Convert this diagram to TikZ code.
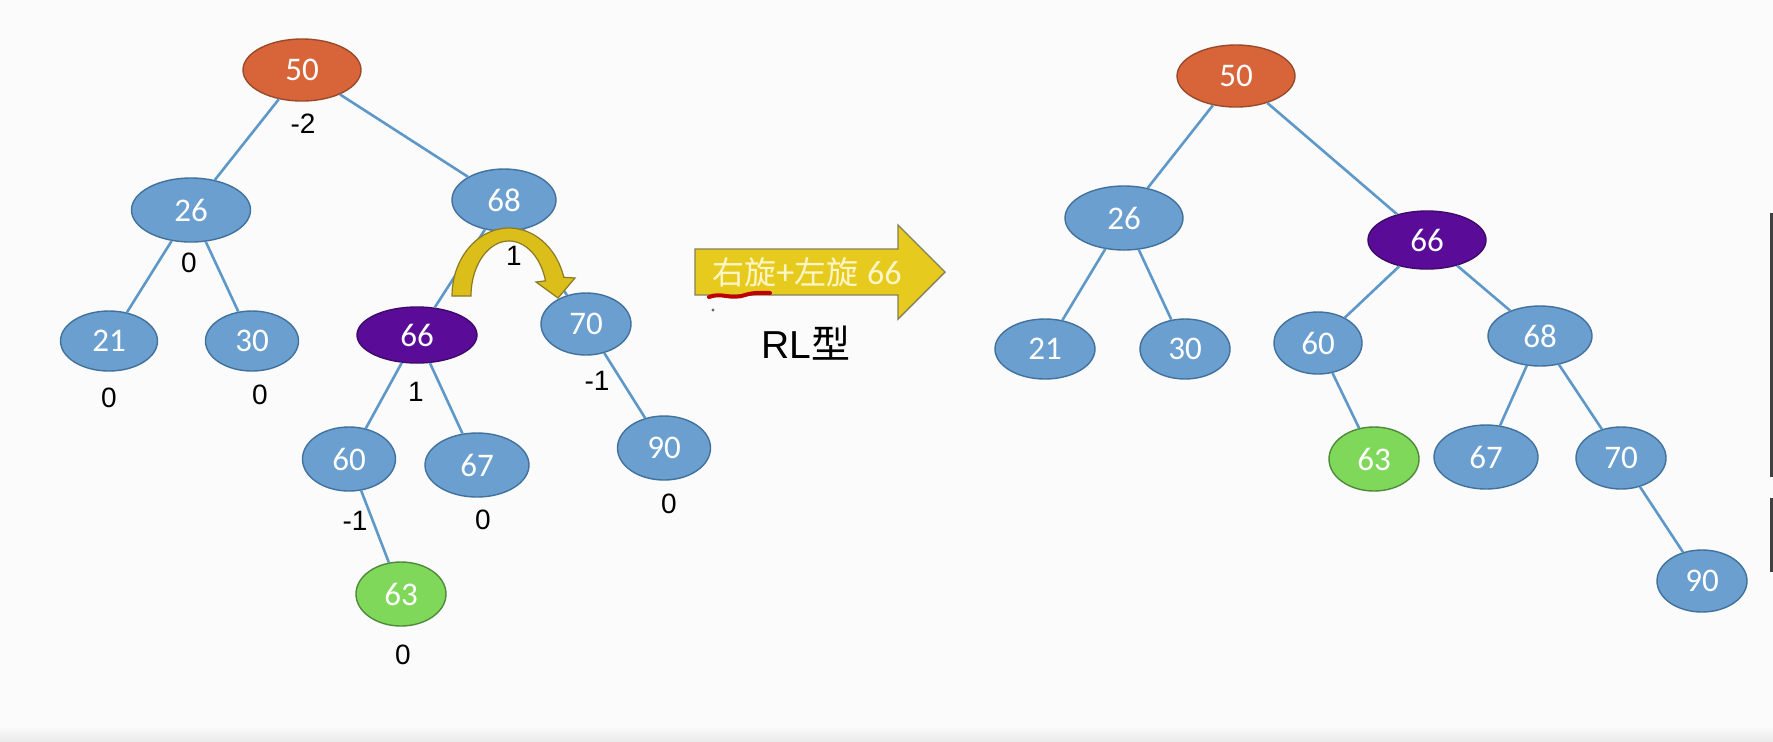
\documentclass[tikz,border=0pt]{standalone}
\usepackage{fontspec}
\setmainfont{Carlito}
\newfontfamily\arialf{Liberation Sans}
\newfontfamily\cjkf{Noto Sans CJK SC}
\usetikzlibrary{shapes.geometric}
\definecolor{bgc}{HTML}{FAFBFA}
\definecolor{ndblue}{HTML}{6A9FCF}
\definecolor{ndline}{HTML}{41719C}
\definecolor{ndorange}{HTML}{D8653A}
\definecolor{orline}{HTML}{9A4A2A}
\definecolor{ndpurple}{HTML}{5A0C98}
\definecolor{puline}{HTML}{3E0A6A}
\definecolor{ndgreen}{HTML}{80D85A}
\definecolor{grline}{HTML}{4E8A3A}
\definecolor{edgeblue}{HTML}{5E98C8}
\definecolor{arrowyel}{HTML}{E6CA1E}
\definecolor{arrowline}{HTML}{85805A}
\definecolor{arrowtxt}{HTML}{FFF6C8}
\definecolor{curveyel}{HTML}{DCBE1A}
\definecolor{curveline}{HTML}{8A7A25}
\tikzset{
  nd/.style 2 args={ellipse, draw=ndline, fill=ndblue, line width=0.7pt,
    minimum width=#1pt, minimum height=#2pt, inner sep=0pt,
    font=\fontsize{16.5}{18}\selectfont, text=white},
  orangend/.style={draw=orline, fill=ndorange},
  purplend/.style={draw=puline, fill=ndpurple},
  greennd/.style={draw=grline, fill=ndgreen, text=white},
  bal/.style={font=\arialf\fontsize{14}{16}\selectfont, text=black, inner sep=0pt},
  tedge/.style={draw=edgeblue, line width=1.3pt},
}
\begin{document}
\begin{tikzpicture}[x=0.5pt,y=-0.5pt]
\useasboundingbox (0,0) rectangle (1773,741);
\fill[bgc] (0,0) rectangle (1773,741);
\shade[top color=bgc, bottom color=black!8] (0,726) rectangle (1773,741);

% ---------- left tree ----------
\node[nd={59}{31}, orangend] (L50) at (302,70) {50};
\node[nd={59.5}{32}] (L26) at (191,210) {26};
\node[nd={52}{31}] (L68) at (504,200) {68};
\node[nd={48.5}{30}] (L21) at (109,341) {21};
\node[nd={46.5}{30}] (L30) at (252,341) {30};
\node[nd={60}{28}, purplend] (L66) at (417,335) {66};
\node[nd={45}{31}] (L70) at (586,324) {70};
\node[nd={46.5}{32}] (L60) at (349,459) {60};
\node[nd={52}{32}] (L67) at (477,465) {67};
\node[nd={46.5}{32}] (L90) at (664,448) {90};
\node[nd={45}{32}, greennd] (L63) at (401,594) {63};

\draw[tedge] (L50) -- (L26);
\draw[tedge] (L50) -- (L68);
\draw[tedge] (L26) -- (L21);
\draw[tedge] (L26) -- (L30);
\draw[tedge] (L68) -- (L66);
\draw[tedge] (L68) -- (L70);
\draw[tedge] (L66) -- (L60);
\draw[tedge] (L66) -- (L67);
\draw[tedge] (L70) -- (L90);
\draw[tedge] (L60) -- (L63);

% curved rotation arrow
\filldraw[fill=curveyel, draw=curveline, line width=0.6pt]
  plot[domain=180:16, samples=40, variable=\t] ({509+57*cos(\t)},{296-68*sin(\t)})
  -- (575,278) -- (558,298) -- (536,282)
  -- plot[domain=16:180, samples=40, variable=\t] ({509+38*cos(\t)},{296-55*sin(\t)})
  -- cycle;

\node[bal] (b50) at (303,124) {-2};
\node[bal] (b26) at (189,263) {0};
\node[bal] (b68) at (514,256) {1};
\node[bal] (b21) at (109,398) {0};
\node[bal] (b30) at (260,395) {0};
\node[bal] (b66) at (416,392) {1};
\node[bal] (b70) at (597,381) {-1};
\node[bal] (b60) at (355,521) {-1};
\node[bal] (b67) at (483,520) {0};
\node[bal] (b90) at (669,504) {0};
\node[bal] (b63) at (403,655) {0};

% ---------- big arrow ----------
\filldraw[fill=arrowyel, draw=arrowline, line width=0.7pt]
  (695,249) -- (898,249) -- (898,225) -- (945,272) -- (898,319) -- (898,295) -- (695,295) -- cycle;
\node[text=arrowtxt, inner sep=0pt] (lbl) at (807,272)
  {\cjkf\fontsize{16}{18}\selectfont 右旋{\fontsize{18}{18}\selectfont\rmfamily+}左旋\;{\fontsize{17}{18}\selectfont\rmfamily 66}};
\draw[red!75!black, line width=2pt, line cap=round]
  (709,297) .. controls (722,292) and (730,300) .. (745,295) .. controls (755,292) and (762,293) .. (770,293);
\fill[black!60] (713,310) circle (0.8pt);
\node[inner sep=0pt, text=black] (rl) at (806,343)
  {\arialf\fontsize{19.5}{22}\selectfont RL\cjkf 型};

% ---------- right tree ----------
\node[nd={59}{31}, orangend] (R50) at (1236,76) {50};
\node[nd={59}{32}] (R26) at (1124,218) {26};
\node[nd={59}{29}, purplend] (R66) at (1427,240) {66};
\node[nd={50}{30}] (R21) at (1045,349) {21};
\node[nd={45}{30}] (R30) at (1185,349) {30};
\node[nd={44}{31}] (R60) at (1318,343) {60};
\node[nd={52}{30}] (R68) at (1540,336) {68};
\node[nd={45}{32}, greennd] (R63) at (1374,459) {63};
\node[nd={52}{32}] (R67) at (1486,457) {67};
\node[nd={45}{31}] (R70) at (1621,458) {70};
\node[nd={45}{31}] (R90) at (1702,581) {90};

\draw[tedge] (R50) -- (R26);
\draw[tedge] (R50) -- (R66);
\draw[tedge] (R26) -- (R21);
\draw[tedge] (R26) -- (R30);
\draw[tedge] (R66) -- (R60);
\draw[tedge] (R66) -- (R68);
\draw[tedge] (R60) -- (R63);
\draw[tedge] (R68) -- (R67);
\draw[tedge] (R68) -- (R70);
\draw[tedge] (R70) -- (R90);

% right edge marks
\draw[black!75, line width=1.5pt] (1771,213) -- (1771,477);
\draw[black!75, line width=1.5pt] (1771,498) -- (1771,572);
\end{tikzpicture}
\end{document}
